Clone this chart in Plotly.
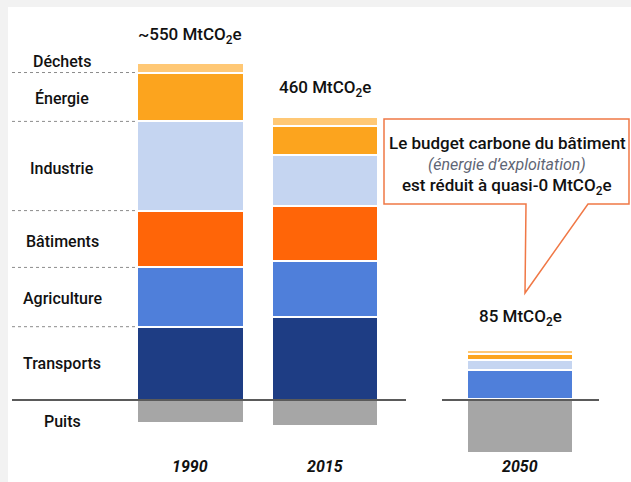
import plotly.graph_objects as go

# ---------------- data ----------------
years = ["1990", "2015", "2050"]
sectors = ["Transports", "Agriculture", "Bâtiments", "Industrie", "Énergie", "Déchets"]
values = {
    "Transports":  [120, 136, 2],
    "Agriculture": [97, 92, 47],
    "Bâtiments":   [93, 90, 0],
    "Industrie":   [146, 83, 16],
    "Énergie":     [80, 47, 10],
    "Déchets":     [15, 14.5, 7],
}
puits = [-37, -42, -87]
total_labels = ["~550 MtCO<sub>2</sub>e", "460 MtCO<sub>2</sub>e", "85 MtCO<sub>2</sub>e"]
callout_lines = ["Le budget carbone du bâtiment", "(énergie d’exploitation)",
                 "est réduit à quasi-0 MtCO<sub>2</sub>e"]

# ---------------- layout / style ----------------
W, H = 631, 482
year_pos = [0, 1, 2.45]          # horizontal slots of the bars
XR = [-1.416, 3.275]
YR = [-134.2, 654.7]
colors = {
    "Transports": "#1e3d84",
    "Agriculture": "#4f7fda",
    "Bâtiments": "#ff6508",
    "Industrie": "#c5d5f1",
    "Énergie": "#fca41e",
    "Déchets": "#ffc875",
}
FONT = "Roboto"
TXT = dict(family=FONT, size=16, color="#111111", weight=500)

def px2x(p):
    return XR[0] + (XR[1] - XR[0]) * p / W

def py2paper(p):
    return 1 - p / H

fig = go.Figure()
for s in sectors:
    fig.add_trace(go.Bar(x=year_pos, y=values[s], name=s, width=0.79,
                         marker=dict(color=colors[s], line=dict(color="white", width=2)),
                         hoverinfo="skip"))
fig.add_trace(go.Bar(x=year_pos, y=puits, name="Puits", width=0.79,
                     marker=dict(color="#a6a6a6", line=dict(color="white", width=2)),
                     hoverinfo="skip"))

shapes = []
# white panel on grey page
shapes.append(dict(type="rect", xref="paper", yref="paper", x0=8 / W, x1=1, y0=0, y1=py2paper(7),
                   fillcolor="white", line_width=0, layer="below"))
# dotted separators at 1990 boundaries
cum = 0
bounds = []
for s in sectors:
    cum += values[s][0]
    bounds.append(cum)
bar_left = year_pos[0] - 0.79 / 2
for b in bounds[:-1]:
    shapes.append(dict(type="line", xref="x", yref="y", x0=px2x(12), x1=bar_left, y0=b, y1=b,
                       line=dict(color="#8c8c8c", width=1, dash="dot")))
# zero lines
for a, b in [(12, 406), (442, 599)]:
    shapes.append(dict(type="line", xref="x", yref="y", x0=px2x(a), x1=px2x(b), y0=0, y1=0,
                       line=dict(color="#5a5a5a", width=2)))
# callout box with pointer
pts = [(384, 119), (629, 119), (629, 204), (588, 204), (525, 293), (526, 204), (384, 204)]
path = "M " + " L ".join(f"{x / W:.5f},{py2paper(y):.5f}" for x, y in pts) + " Z"
shapes.append(dict(type="path", xref="paper", yref="paper", path=path,
                   fillcolor="white", line=dict(color="#f07846", width=1.5)))

annotations = []
# sector labels on the left
label_shift = {"Déchets": 6, "Énergie": -2, "Industrie": -2, "Bâtiments": -2,
               "Agriculture": -1, "Transports": 0}
prev = 0
for s, b in zip(sectors, bounds):
    mid = (prev + b) / 2
    prev = b
    annotations.append(dict(x=px2x(62), y=mid, xref="x", yref="y", text=s, showarrow=False,
                            xanchor="center", yanchor="middle",
                            yshift=label_shift[s], font=TXT))
annotations.append(dict(x=px2x(62), y=puits[0] / 2, xref="x", yref="y", text="Puits",
                        showarrow=False, xanchor="center", yanchor="middle", yshift=-10, font=TXT))
# totals
tshift = [14, 15, 19]
for i, t in enumerate(total_labels):
    tot = sum(values[s][i] for s in sectors)
    annotations.append(dict(x=year_pos[i], y=tot, xref="x", yref="y", text=t, showarrow=False,
                            xanchor="center", yanchor="bottom", yshift=tshift[i],
                            font=dict(TXT, size=17)))
# year labels
for i, yname in enumerate(years):
    annotations.append(dict(x=year_pos[i], y=py2paper(466), xref="x", yref="paper",
                            text=f"<b><i>{yname}</i></b>", showarrow=False,
                            xanchor="center", yanchor="middle",
                            font=dict(family=FONT, size=16, color="#111111")))
# callout text
cy = [143, 164, 187]
for i, t in enumerate(callout_lines):
    if i == 1:
        annotations.append(dict(x=507 / W, y=py2paper(cy[i]), xref="paper", yref="paper",
                                text=f"<i>{t}</i>", showarrow=False,
                                xanchor="center", yanchor="middle",
                                font=dict(family=FONT, size=16, color="#5f6675", weight=400)))
    else:
        annotations.append(dict(x=507 / W, y=py2paper(cy[i]), xref="paper", yref="paper",
                                text=t, showarrow=False, xanchor="center", yanchor="middle",
                                font=dict(TXT, size=17)))

fig.update_layout(
    width=W, height=H, barmode="relative", bargap=0, showlegend=False,
    margin=dict(l=0, r=0, t=0, b=0),
    paper_bgcolor="#f2f2f2", plot_bgcolor="rgba(0,0,0,0)",
    xaxis=dict(range=XR, visible=False, fixedrange=True),
    yaxis=dict(range=YR, visible=False, fixedrange=True),
    shapes=shapes, annotations=annotations,
)
fig.write_html("out.html", config={"displayModeBar": False},
               post_script="document.body.style.margin='0';document.body.style.padding='0';"
                           "document.body.style.overflow='hidden';")
